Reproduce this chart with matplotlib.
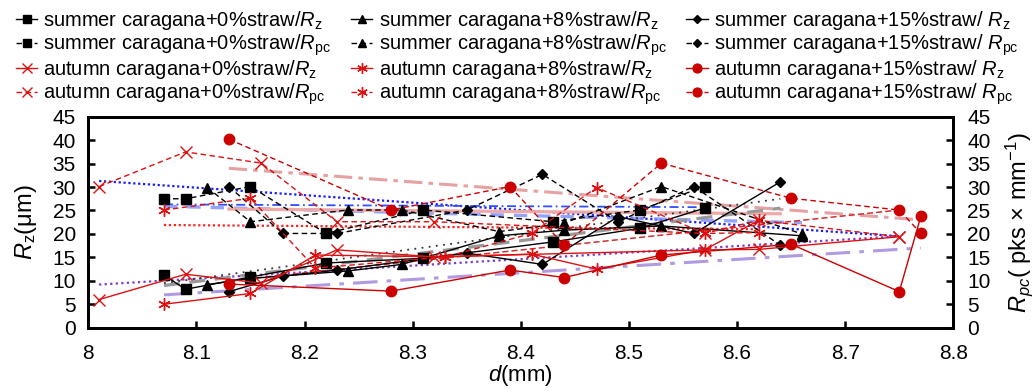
import matplotlib
matplotlib.use("Agg")
import matplotlib.pyplot as plt

plt.rcParams['font.family'] = ['Liberation Sans', 'DejaVu Sans']
plt.rcParams['mathtext.fontset'] = 'custom'
plt.rcParams['mathtext.rm'] = 'Liberation Sans'
plt.rcParams['mathtext.it'] = 'Liberation Sans:italic'

# ---- data (d in mm) ----
d_s0 = [8.07, 8.09, 8.15, 8.22, 8.31, 8.43, 8.51, 8.57]
rz_s0 = [11.2, 8.2, 10.8, 13.8, 14.8, 18.3, 21.2, 25.5]
rpc_s0 = [27.5, 27.5, 30.1, 20.1, 25.1, 22.6, 25.1, 30.1]

d_s8 = [8.11, 8.15, 8.24, 8.29, 8.38, 8.44, 8.53, 8.66]
rz_s8 = [9.2, 10.5, 12.1, 13.5, 19.6, 20.8, 21.7, 19.6]
rpc_s8 = [29.9, 22.6, 25.1, 25.1, 20.5, 22.3, 30.1, 20.0]

d_s15 = [8.13, 8.18, 8.23, 8.35, 8.42, 8.49, 8.56, 8.64]
rz_s15 = [7.7, 11.0, 12.3, 15.9, 13.5, 23.7, 20.1, 31.1]
rpc_s15 = [30.1, 20.1, 20.1, 25.1, 32.7, 22.6, 30.1, 17.6]

d_a0 = [8.01, 8.09, 8.16, 8.23, 8.32, 8.57, 8.62, 8.75]
rz_a0 = [6.0, 11.4, 9.5, 16.6, 15.1, 16.6, 16.7, 19.4]
rpc_a0 = [30.1, 37.5, 35.1, 22.6, 22.6, 20.1, 22.9, 19.4]

d_a8 = [8.07, 8.15, 8.21, 8.33, 8.41, 8.47, 8.57, 8.62]
rz_a8 = [5.0, 7.3, 15.5, 15.1, 15.7, 12.5, 16.6, 22.9]
rpc_a8 = [25.1, 27.6, 12.7, 15.1, 20.1, 29.9, 20.1, 20.3]

d_a15 = [8.13, 8.28, 8.39, 8.44, 8.53, 8.65, 8.75, 8.77]
rz_a15 = [9.3, 7.8, 12.3, 10.7, 15.5, 17.8, 7.7, 23.8]
rpc_a15 = [40.2, 25.1, 30.1, 17.6, 35.1, 27.6, 25.1, 20.1]

# fitted trend lines (start d, end d, start value, end value)
trend_d0 = [8.01, 8.07, 8.07, 8.07, 8.13, 8.13, 8.01, 8.07, 8.07, 8.07, 8.13]
trend_d1 = [8.75, 8.57, 8.66, 8.62, 8.77, 8.64, 8.75, 8.77, 8.64, 8.64, 8.75]
trend_v0 = [31.3, 26.3, 25.9, 21.9, 34.0, 25.3, 9.2, 7.0, 9.0, 9.5, 10.0]
trend_v1 = [19.5, 25.7, 22.4, 21.0, 23.0, 24.3, 19.5, 17.0, 25.5, 27.5, 25.1]

x_ticks = [8, 8.1, 8.2, 8.3, 8.4, 8.5, 8.6, 8.7, 8.8]
x_ticklabels = ['8', '8.1', '8.2', '8.3', '8.4', '8.5', '8.6', '8.7', '8.8']
y_ticks = [0, 5, 10, 15, 20, 25, 30, 35, 40, 45]

fig = plt.figure(figsize=(10.35, 3.91), dpi=100)
ax = fig.add_axes([0.0853, 0.1619, 0.8358, 0.5396])

trend_styles = [
    dict(color='#1a1aff', ls=(0, (1, 1.2)), lw=1.6),
    dict(color='#3050ff', ls=(0, (5, 2, 1, 2)), lw=1.3),
    dict(color='#7a8cff', ls=(0, (4, 3)), lw=2.4, alpha=0.8),
    dict(color='#ff2020', ls=(0, (1, 1.2)), lw=1.6),
    dict(color='#e6a2a2', ls=(0, (6, 2, 1.5, 2)), lw=2.2),
    dict(color='#eda8a8', ls='-', lw=2.3),
    dict(color='#7a3cc8', ls=(0, (1, 1.5)), lw=1.6),
    dict(color='#b09ae0', ls=(0, (8, 3, 1.5, 3)), lw=2.2),
    dict(color='#999999', ls=(0, (5, 3)), lw=2.3),
    dict(color='#333333', ls=(0, (1, 3)), lw=1.3),
    dict(color='#d03030', ls=(0, (4, 2)), lw=1.1),
]
for a0, a1, b0, b1, st in zip(trend_d0, trend_d1, trend_v0, trend_v1, trend_styles):
    ax.plot([a0, a1], [b0, b1], zorder=2, **st)

black = 'black'
red_dark = '#cc0000'
red = '#dd1111'

series = [
    ('summer caragana+0%straw/', d_s0, rz_s0, rpc_s0, black, 's', 7, 1.0),
    ('summer caragana+8%straw/', d_s8, rz_s8, rpc_s8, black, '^', 7, 1.0),
    ('summer caragana+15%straw/ ', d_s15, rz_s15, rpc_s15, black, 'D', 5, 1.0),
    ('autumn caragana+0%straw/', d_a0, rz_a0, rpc_a0, red, 'x', 8, 1.0),
    ('autumn caragana+8%straw/', d_a8, rz_a8, rpc_a8, red, (6, 2, 0), 9, 1.0),
    ('autumn caragana+15%straw/ ', d_a15, rz_a15, rpc_a15, red_dark, 'o', 7.5, 1.0),
]

handles = {}
for name, d, rz, rpc, col, mk, ms, mew in series:
    h1, = ax.plot(d, rz, color=col, ls='-', lw=1.0, marker=mk, ms=ms,
                  mfc=col, mec=col, mew=mew, zorder=4,
                  label=name + r'$R_\mathrm{z}$')
    h2, = ax.plot(d, rpc, color=col, ls=(0, (4, 2.5)), lw=1.0, marker=mk, ms=ms,
                  mfc=col, mec=col, mew=mew, zorder=4,
                  label=name + r'$R_\mathrm{pc}$')
    handles[name] = (h1, h2)

order = [series[0], series[3], series[1], series[4], series[2], series[5]]
hl = []
for s in order:
    hl.extend(handles[s[0]])
fig.legend(handles=hl, labels=[h.get_label() for h in hl], ncol=3,
           loc='upper left', bbox_to_anchor=(0.004, 1.008), frameon=False,
           fontsize=14.5, handlelength=1.05, handletextpad=0.3,
           columnspacing=1.0, labelspacing=0.02, borderaxespad=0.2,
           markerscale=0.85)

ax.set_xlim(8, 8.8)
ax.set_ylim(0, 45)
ax.set_xticks(x_ticks)
ax.set_xticklabels(x_ticklabels)
ax.set_yticks(y_ticks)
ax.tick_params(axis='both', direction='in', labelsize=15, width=1.8, length=5)
ax.tick_params(axis='x', pad=12, top=False)
ax.tick_params(axis='y', pad=9)
for sp in ax.spines.values():
    sp.set_linewidth(2.0)

ax.set_xlabel(r'$d$(mm)', fontsize=16, labelpad=0)
ax.set_ylabel(r'$R_\mathrm{z}$(μm)', fontsize=17, labelpad=10)

ax2 = ax.twinx()
ax2.set_ylim(0, 45)
ax2.set_yticks(y_ticks)
ax2.tick_params(axis='y', direction='in', labelsize=15, width=1.8, length=5, pad=10)
for sp in ax2.spines.values():
    sp.set_linewidth(2.0)
ax2.set_ylabel(r'$R_{pc}$( pks × mm$^\mathrm{-1}$)', fontsize=17, labelpad=9)

fig.savefig('out.png', dpi=100)
